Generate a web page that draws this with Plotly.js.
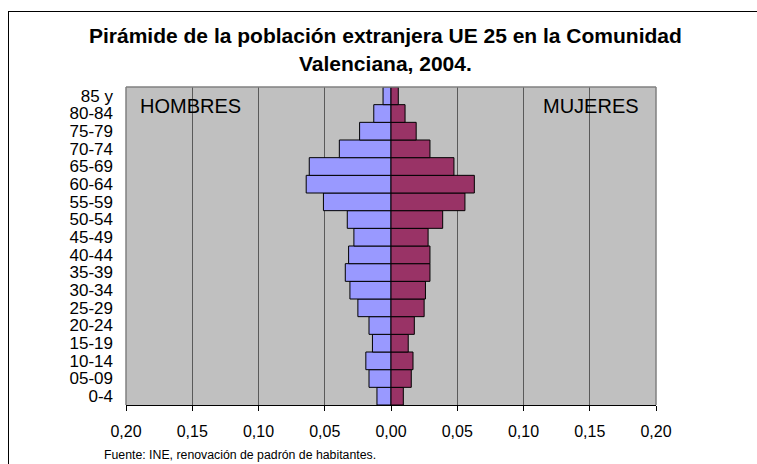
<!DOCTYPE html>
<html>
<head>
<meta charset="utf-8">
<script src="https://cdn.plot.ly/plotly-3.0.1.min.js"></script>
<style>
  html, body { margin: 0; padding: 0; background: #ffffff; overflow: hidden; }
  #frame { position: absolute; left: 8px; top: 11px; width: 800px; height: 500px; border: 1px solid #000; box-sizing: border-box; }
  #chart { position: absolute; left: 0; top: 0; width: 757px; height: 464px; }
</style>
</head>
<body>
<div id="frame"></div>
<div id="chart"></div>
<script>
// Age groups from bottom to top
const ageGroups = ["0-4","05-09","10-14","15-19","20-24","25-29","30-34","35-39","40-44","45-49","50-54","55-59","60-64","65-69","70-74","75-79","80-84","85 y"];
// Share of population (men shown to the left)
const hombres = [0.0106,0.0166,0.019,0.014,0.0166,0.025,0.031,0.0345,0.032,0.028,0.033,0.051,0.064,0.0617,0.039,0.0237,0.013,0.006];
const mujeres = [0.0093,0.0153,0.0166,0.013,0.0176,0.025,0.026,0.0294,0.0294,0.028,0.039,0.0558,0.0629,0.0475,0.0294,0.019,0.0106,0.0055];
const tickVals = [-0.2,-0.15,-0.1,-0.05,0,0.05,0.1,0.15,0.2];
const tickText = ["0,20","0,15","0,10","0,05","0,00","0,05","0,10","0,15","0,20"];
const titleLine1 = "Pirámide de la población extranjera UE 25 en la Comunidad";
const titleLine2 = "Valenciana, 2004.";
const source = "Fuente: INE, renovación de padrón de habitantes.";

const FONT = "Arial, 'Liberation Sans', sans-serif";
const L = 126, R = 101, T = 87, B = 59, W = 757, H = 464;
const pw = W - L - R, ph = H - T - B;
const px = x => (x - L) / pw;
const py = y => (H - B - y) / ph;

const traces = [
  { type: "bar", orientation: "h", y: ageGroups, x: hombres.map(v => -v), name: "Hombres",
    marker: { color: "#9999FF", line: { color: "#000", width: 1 } }, hoverinfo: "skip" },
  { type: "bar", orientation: "h", y: ageGroups, x: mujeres, name: "Mujeres",
    marker: { color: "#993366", line: { color: "#000", width: 1 } }, hoverinfo: "skip" }
];

const layout = {
  width: W, height: H,
  margin: { l: L, r: R, t: T, b: B, pad: 0 },
  paper_bgcolor: "rgba(0,0,0,0)",
  plot_bgcolor: "#C0C0C0",
  showlegend: false,
  barmode: "relative",
  bargap: 0,
  font: { family: FONT, color: "#000" },
  xaxis: {
    range: [-0.2, 0.2], tickmode: "array", tickvals: tickVals, ticktext: tickText,
    showgrid: true, gridcolor: "#5a5a5a", gridwidth: 1, zeroline: false,
    ticks: "outside", ticklen: 5, tickcolor: "#000", tickwidth: 1,
    showline: true, linecolor: "#000", linewidth: 1,
    tickfont: { family: FONT, size: 16, color: "#000" }, ticklabelstandoff: 7,
    fixedrange: true
  },
  yaxis: {
    type: "category", categoryorder: "array", categoryarray: ageGroups,
    tickmode: "array", tickvals: ageGroups, ticktext: ageGroups,
    range: [-0.5, 17.5], showgrid: false, zeroline: false, ticks: "", showline: false,
    tickfont: { family: FONT, size: 17, color: "#000" }, ticklabelstandoff: 12,
    fixedrange: true
  },
  yaxis2: {
    overlaying: "y", anchor: "free", position: 0.5, side: "right",
    type: "linear", range: [-0.5, 17.5], tickmode: "array", tickvals: ageGroups.map((_, i) => i),
    showticklabels: false, ticks: "outside", ticklen: 3, tickcolor: "#000", tickwidth: 1,
    showline: true, linecolor: "#000", linewidth: 1.5, showgrid: false, zeroline: false,
    fixedrange: true
  },
  shapes: [
    { type: "line", xref: "paper", yref: "paper", x0: 0, x1: 0, y0: 0, y1: 1, line: { color: "#808080", width: 1.5 } },
    { type: "line", xref: "paper", yref: "paper", x0: 1, x1: 1, y0: 0, y1: 1, line: { color: "#808080", width: 1.5 } },
    { type: "line", xref: "paper", yref: "paper", x0: 0, x1: 1, y0: 1, y1: 1, line: { color: "#808080", width: 1.5 } }
  ],
  annotations: [
    { text: "<b>" + titleLine1 + "</b>", xref: "paper", yref: "paper", x: px(385), y: py(36),
      xanchor: "center", yanchor: "middle", showarrow: false, font: { family: FONT, size: 21, color: "#000" } },
    { text: "<b>" + titleLine2 + "</b>", xref: "paper", yref: "paper", x: px(385), y: py(64),
      xanchor: "center", yanchor: "middle", showarrow: false, font: { family: FONT, size: 21, color: "#000" } },
    { text: "HOMBRES", xref: "paper", yref: "paper", x: px(138), y: py(106),
      xanchor: "left", yanchor: "middle", showarrow: false, font: { family: FONT, size: 20, color: "#000" } },
    { text: "MUJERES", xref: "paper", yref: "paper", x: px(541), y: py(106),
      xanchor: "left", yanchor: "middle", showarrow: false, font: { family: FONT, size: 20, color: "#000" } },
    { text: source, xref: "paper", yref: "paper", x: px(102), y: py(455),
      xanchor: "left", yanchor: "middle", showarrow: false, font: { family: FONT, size: 12.3, color: "#000" } }
  ]
};

Plotly.newPlot("chart", traces, layout, { staticPlot: true, displayModeBar: false });
</script>
</body>
</html>
